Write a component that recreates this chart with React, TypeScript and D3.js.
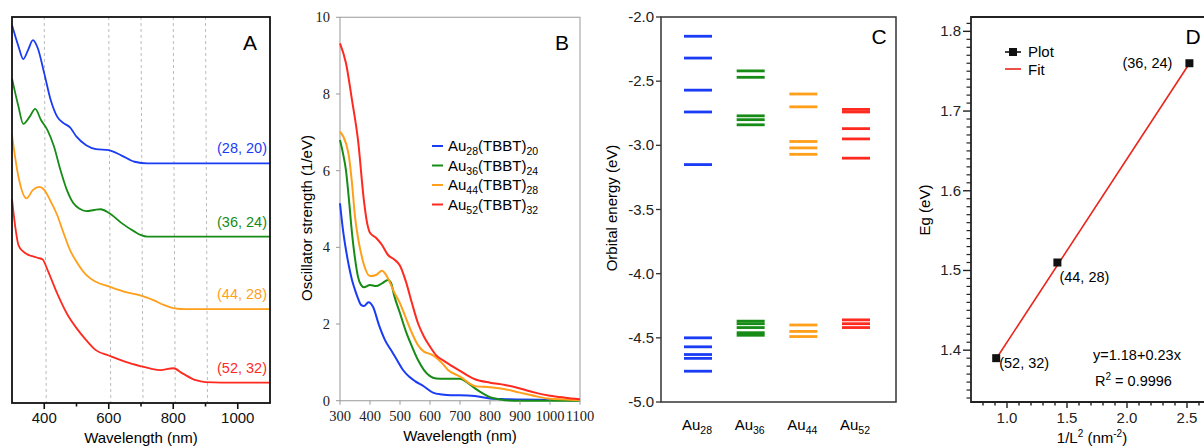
import React, { useEffect, useRef } from 'react'
import * as d3 from 'd3'

const W = 1204, H = 447
const SANS = '"Liberation Sans", Arial, Helvetica, sans-serif'
const SERIF = '"Liberation Serif", "Times New Roman", serif'
const colors = ['#1a3cf5', '#168c16', '#ff9f1a', '#ff2a1f']

// ---- panel A: stacked absorption spectra (offset, a.u.) ----
const absAu28: [number, number][] = [[300, 9.79], [320, 9.24], [335, 8.91], [350, 9.15], [365, 9.4], [380, 9.19], [400, 8.54], [420, 7.85], [440, 7.42], [460, 7.25], [480, 7.14], [500, 6.9], [530, 6.68], [560, 6.58], [600, 6.55], [640, 6.41], [680, 6.25], [720, 6.21], [800, 6.21], [1100, 6.21]]
const absAu36: [number, number][] = [[300, 8.41], [320, 7.68], [335, 7.23], [355, 7.42], [372, 7.62], [390, 7.33], [410, 7.07], [430, 6.65], [450, 6.04], [470, 5.52], [490, 5.18], [510, 5.03], [530, 4.97], [555, 5.0], [575, 5.02], [600, 4.93], [640, 4.66], [680, 4.44], [700, 4.35], [720, 4.31], [800, 4.31], [1100, 4.31]]
const absAu44: [number, number][] = [[300, 6.94], [320, 5.86], [345, 5.3], [365, 5.52], [385, 5.6], [400, 5.52], [420, 5.22], [440, 4.87], [460, 4.4], [480, 3.96], [500, 3.66], [530, 3.32], [560, 3.14], [600, 3.02], [650, 2.88], [700, 2.78], [740, 2.66], [770, 2.54], [800, 2.46], [840, 2.43], [1100, 2.43]]
const absAu52: [number, number][] = [[300, 5.28], [310, 4.57], [320, 4.09], [335, 3.92], [360, 3.81], [380, 3.76], [395, 3.72], [410, 3.45], [440, 2.84], [470, 2.32], [500, 1.94], [530, 1.63], [560, 1.37], [600, 1.23], [650, 1.07], [700, 0.95], [730, 0.89], [760, 0.85], [800, 0.9], [830, 0.76], [870, 0.59], [900, 0.54], [950, 0.53], [1100, 0.53]]
const absLabels = ['(28, 20)', '(36, 24)', '(44, 28)', '(52, 32)']
const absGrid = [400, 600, 700, 800, 900]
const absTicks = [400, 600, 800, 1000]
const absMinor = [500, 700, 900]

// ---- panel B: computed oscillator strength ----
const oscAu28: [number, number][] = [[300, 5.15], [310, 4.45], [320, 3.93], [330, 3.5], [340, 3.15], [350, 2.89], [360, 2.67], [370, 2.5], [380, 2.47], [395, 2.57], [410, 2.45], [430, 1.97], [450, 1.58], [470, 1.32], [490, 1.06], [510, 0.8], [530, 0.63], [550, 0.51], [580, 0.37], [610, 0.21], [640, 0.16], [670, 0.14], [700, 0.14], [750, 0.12], [800, 0.06], [850, 0.04], [900, 0.03], [1000, 0.02], [1100, 0.01]]
const oscAu36: [number, number][] = [[300, 6.8], [310, 6.45], [320, 6.0], [330, 5.23], [340, 4.37], [350, 3.71], [360, 3.23], [370, 3.02], [380, 2.96], [400, 3.02], [420, 2.99], [440, 3.06], [460, 3.15], [470, 3.08], [480, 2.76], [500, 2.28], [520, 1.8], [540, 1.41], [560, 1.06], [580, 0.8], [600, 0.64], [620, 0.58], [650, 0.57], [700, 0.57], [720, 0.5], [750, 0.32], [780, 0.17], [800, 0.09], [830, 0.04], [850, 0.01], [900, 0.0], [1100, 0.0]]
const oscAu44: [number, number][] = [[300, 7.02], [320, 6.71], [330, 6.36], [340, 5.67], [350, 4.8], [360, 4.25], [370, 3.85], [380, 3.54], [400, 3.25], [420, 3.28], [440, 3.39], [460, 3.19], [480, 2.84], [500, 2.54], [520, 2.15], [540, 1.76], [560, 1.45], [580, 1.28], [600, 1.22], [620, 1.13], [640, 0.98], [660, 0.8], [700, 0.63], [750, 0.38], [800, 0.35], [850, 0.3], [900, 0.21], [950, 0.12], [1000, 0.05], [1050, 0.03], [1100, 0.01]]
const oscAu52: [number, number][] = [[300, 9.32], [320, 8.8], [340, 7.84], [360, 6.8], [380, 5.2], [390, 4.65], [400, 4.38], [420, 4.25], [440, 4.06], [460, 3.8], [480, 3.69], [500, 3.52], [520, 3.1], [540, 2.54], [560, 2.02], [580, 1.67], [600, 1.41], [620, 1.19], [650, 1.02], [700, 0.78], [750, 0.56], [800, 0.47], [850, 0.41], [900, 0.32], [950, 0.21], [1000, 0.13], [1050, 0.08], [1100, 0.04]]
const oscLegend = [['28', '20'], ['36', '24'], ['44', '28'], ['52', '32']]
const oscXTicks = [300, 400, 500, 600, 700, 800, 900, 1000, 1100]
const oscYTicks = [0, 2, 4, 6, 8, 10]

// ---- panel C: orbital energy levels (eV) ----
const clusters = ['28', '36', '44', '52']
const levelsAu28 = [-2.15, -2.32, -2.57, -2.74, -3.15, -4.5, -4.57, -4.63, -4.66, -4.76]
const levelsAu36 = [-2.42, -2.47, -2.77, -2.8, -2.84, -4.37, -4.39, -4.42, -4.46, -4.48]
const levelsAu44 = [-2.6, -2.7, -2.97, -3.02, -3.07, -4.4, -4.45, -4.49]
const levelsAu52 = [-2.72, -2.74, -2.87, -2.95, -3.1, -4.36, -4.39, -4.42]
const energyTicks = [-5.0, -4.5, -4.0, -3.5, -3.0, -2.5, -2.0]

// ---- panel D: gap vs 1/L^2 ----
const gapX = [0.91, 1.42, 2.52]
const gapY = [1.39, 1.51, 1.76]
const gapLabels = ['(52, 32)', '(44, 28)', '(36, 24)']
const fitA = 1.18, fitB = 0.23
const gapXTicks = [1.0, 1.5, 2.0, 2.5]
const gapYTicks = [1.4, 1.5, 1.6, 1.7, 1.8]

type Sel = d3.Selection<SVGGElement, unknown, null, undefined>

// tick marks along a horizontal axis (dir 1 = down) or vertical axis (dir -1 = left)
function hTicks(g: Sel, xs: number[], y: number, len: number, color: string, w: number) {
  g.append('g').selectAll('line').data(xs).join('line')
    .attr('x1', d => d).attr('x2', d => d).attr('y1', y).attr('y2', y + len)
    .attr('stroke', color).attr('stroke-width', w)
}
function vTicks(g: Sel, ys: number[], x: number, len: number, color: string, w: number) {
  g.append('g').selectAll('line').data(ys).join('line')
    .attr('x1', x - len).attr('x2', x).attr('y1', d => d).attr('y2', d => d)
    .attr('stroke', color).attr('stroke-width', w)
}

export default function App() {
  const ref = useRef<SVGSVGElement>(null)

  useEffect(() => {
    const svg = d3.select(ref.current)
    svg.selectAll('*').remove()
    const g = svg.append('g').attr('font-family', SANS) as unknown as Sel

    // ================= A =================
    const xA = d3.scaleLinear().domain([300, 1100]).range([12, 270])
    const yA = d3.scaleLinear().domain([0, 10]).range([403, 17])
    g.append('g').selectAll('line').data(absGrid).join('line')
      .attr('x1', d => xA(d)).attr('x2', d => xA(d) + 2)
      .attr('y1', 17).attr('y2', 403)
      .attr('stroke', '#aaa').attr('stroke-width', 0.8).attr('stroke-dasharray', '3,3')
    const lineA = d3.line<[number, number]>().x(d => xA(d[0])).y(d => yA(d[1])).curve(d3.curveMonotoneX)
    ;[absAu28, absAu36, absAu44, absAu52].forEach((s, i) => {
      g.append('path').attr('d', lineA(s)).attr('fill', 'none')
        .attr('stroke', colors[i]).attr('stroke-width', 1.8)
      g.append('text').attr('x', 267).attr('y', yA(s[s.length - 1][1]) - 10)
        .attr('text-anchor', 'end').attr('font-size', 14.5).attr('fill', colors[i]).text(absLabels[i])
    })
    g.append('rect').attr('x', 12).attr('y', 17).attr('width', 258).attr('height', 386)
      .attr('fill', 'none').attr('stroke', '#111').attr('stroke-width', 1.8)
    hTicks(g, absTicks.map(xA), 403, 6, '#111', 1.6)
    hTicks(g, absMinor.map(xA), 403, 3.5, '#111', 1.6)
    g.append('g').selectAll('text').data(absTicks).join('text')
      .attr('x', d => xA(d)).attr('y', 423).attr('text-anchor', 'middle').attr('font-size', 15).attr('fill', '#111')
      .text(d => String(d))
    g.append('text').attr('x', 141).attr('y', 443).attr('text-anchor', 'middle').attr('font-size', 15).text('Wavelength (nm)')
    g.append('text').attr('x', 250).attr('y', 50).attr('text-anchor', 'middle').attr('font-size', 21).text('A')

    // ================= B =================
    const xB = d3.scaleLinear().domain([300, 1100]).range([340, 580])
    const yB = d3.scaleLinear().domain([0, 10]).range([400.7, 17.3])
    g.append('rect').attr('x', 340).attr('y', 17.3).attr('width', 240).attr('height', 383.4)
      .attr('fill', 'none').attr('stroke', '#aaa').attr('stroke-width', 1.2)
    const lineB = d3.line<[number, number]>().x(d => xB(d[0])).y(d => yB(d[1])).curve(d3.curveMonotoneX)
    ;[oscAu28, oscAu36, oscAu44, oscAu52].forEach((s, i) => {
      g.append('path').attr('d', lineB(s)).attr('fill', 'none')
        .attr('stroke', colors[i]).attr('stroke-width', 2)
    })
    hTicks(g, oscXTicks.map(xB), 400.7, 4, '#999', 1)
    vTicks(g, oscYTicks.map(yB), 340, 4, '#999', 1)
    g.append('g').selectAll('text').data(oscXTicks).join('text')
      .attr('x', d => xB(d)).attr('y', 421).attr('text-anchor', 'middle')
      .attr('font-family', SERIF).attr('font-size', 14.5).attr('fill', '#222').text(d => String(d))
    g.append('g').selectAll('text').data(oscYTicks).join('text')
      .attr('x', 330).attr('y', d => yB(d) + 5).attr('text-anchor', 'end')
      .attr('font-family', SERIF).attr('font-size', 14.5).attr('fill', '#222').text(d => String(d))
    g.append('text').attr('x', 460).attr('y', 441).attr('text-anchor', 'middle').attr('font-size', 15).text('Wavelength (nm)')
    g.append('text').attr('transform', 'translate(312,218) rotate(-90)').attr('text-anchor', 'middle')
      .attr('font-size', 15).text('Oscillator strength (1/eV)')
    g.append('text').attr('x', 562).attr('y', 50).attr('text-anchor', 'middle').attr('font-size', 21).text('B')
    const legB = g.append('g')
    oscLegend.forEach((p, i) => {
      const yy = 146 + i * 19.5
      legB.append('line').attr('x1', 432).attr('x2', 443).attr('y1', yy).attr('y2', yy)
        .attr('stroke', colors[i]).attr('stroke-width', 2)
      const t = legB.append('text').attr('x', 448).attr('y', yy + 5).attr('font-size', 15)
      t.append('tspan').text('Au')
      t.append('tspan').attr('font-size', 10.5).attr('dy', 4).text(p[0])
      t.append('tspan').attr('dy', -4).text('(TBBT)')
      t.append('tspan').attr('font-size', 10.5).attr('dy', 4).text(p[1])
    })

    // ================= C =================
    const xC = d3.scalePoint<string>().domain(clusters).range([698, 856])
    const yC = d3.scaleLinear().domain([-5, -2]).range([402, 17])
    ;[levelsAu28, levelsAu36, levelsAu44, levelsAu52].forEach((lv, i) => {
      const cx = xC(clusters[i]) as number
      g.append('g').selectAll('line').data(lv).join('line')
        .attr('x1', cx - 14).attr('x2', cx + 14)
        .attr('y1', d => yC(d)).attr('y2', d => yC(d))
        .attr('stroke', colors[i]).attr('stroke-width', 2.8)
    })
    g.append('rect').attr('x', 661).attr('y', 17).attr('width', 235).attr('height', 385)
      .attr('fill', 'none').attr('stroke', '#333').attr('stroke-width', 1.5)
    vTicks(g, energyTicks.map(yC), 661, 5, '#333', 1.3)
    g.append('g').selectAll('text').data(energyTicks).join('text')
      .attr('x', 654).attr('y', d => yC(d) + 5).attr('text-anchor', 'end').attr('font-size', 15).attr('fill', '#222')
      .text(d => d.toFixed(1))
    clusters.forEach(c => {
      const t = g.append('text').attr('x', (xC(c) as number) - 1).attr('y', 430).attr('text-anchor', 'middle').attr('font-size', 15)
      t.append('tspan').text('Au')
      t.append('tspan').attr('font-size', 10.5).attr('dy', 4).text(c)
    })
    g.append('text').attr('transform', 'translate(617,208) rotate(-90)').attr('text-anchor', 'middle')
      .attr('font-size', 15).text('Orbital energy (eV)')
    g.append('text').attr('x', 879).attr('y', 44).attr('text-anchor', 'middle').attr('font-size', 21).text('C')

    // ================= D =================
    const xD = d3.scaleLinear().domain([0.7, 2.7]).range([971, 1211])
    const yD = d3.scaleLinear().domain([1.335, 1.818]).range([402, 17])
    const xMinor = d3.range(8, 28).map(v => v / 10).filter(v => Math.round(v * 10) % 5 !== 0)
    const yMinor = d3.range(134, 182).map(v => v / 100).filter(v => Math.round(v * 100) % 10 !== 0)
    hTicks(g, gapXTicks.map(xD), 402, 6, '#222', 1.4)
    hTicks(g, xMinor.map(xD), 402, 3.5, '#222', 1.4)
    vTicks(g, gapYTicks.map(yD), 971, 8, '#222', 1.4)
    vTicks(g, yMinor.map(yD), 971, 4.5, '#222', 1.2)
    g.append('path').attr('d', `M${W},17H971V402H${W}`).attr('fill', 'none').attr('stroke', '#222').attr('stroke-width', 1.8)
    g.append('g').selectAll('text').data(gapXTicks).join('text')
      .attr('x', d => xD(d)).attr('y', 423).attr('text-anchor', 'middle').attr('font-size', 15).attr('fill', '#222')
      .text(d => d.toFixed(1))
    g.append('g').selectAll('text').data(gapYTicks).join('text')
      .attr('x', 961).attr('y', d => yD(d) + 5).attr('text-anchor', 'end').attr('font-size', 15).attr('fill', '#222')
      .text(d => d.toFixed(1))
    g.append('line').attr('x1', xD(gapX[0])).attr('x2', xD(gapX[2]))
      .attr('y1', yD(fitA + fitB * gapX[0])).attr('y2', yD(fitA + fitB * gapX[2]))
      .attr('stroke', '#e8261c').attr('stroke-width', 1.6)
    g.append('g').selectAll('rect').data(gapX).join('rect')
      .attr('x', d => xD(d) - 4).attr('y', (d, i) => yD(gapY[i]) - 4).attr('width', 8).attr('height', 8).attr('fill', '#111')
    const lblOff = [[3, 10, 'start'], [2, 19, 'start'], [-17, 5, 'end']]
    gapX.forEach((x, i) => {
      g.append('text').attr('x', xD(x) + (lblOff[i][0] as number)).attr('y', yD(gapY[i]) + (lblOff[i][1] as number))
        .attr('text-anchor', lblOff[i][2] as string).attr('font-size', 14.5).text(gapLabels[i])
    })
    g.append('text').attr('x', 1093).attr('y', 360).attr('font-size', 14.5).text(`y=${fitA}+${fitB}x`)
    const r2 = g.append('text').attr('x', 1095).attr('y', 386).attr('font-size', 14.5)
    r2.append('tspan').text('R')
    r2.append('tspan').attr('font-size', 10).attr('dy', -6).text('2')
    r2.append('tspan').attr('dy', 6).text(' = 0.9996')
    // legend
    g.append('line').attr('x1', 1005).attr('x2', 1021).attr('y1', 52).attr('y2', 52).attr('stroke', '#111').attr('stroke-width', 1.6)
    g.append('rect').attr('x', 1009).attr('y', 48).attr('width', 8).attr('height', 8).attr('fill', '#111')
    g.append('text').attr('x', 1028).attr('y', 57).attr('font-size', 15).text('Plot')
    g.append('line').attr('x1', 1005).attr('x2', 1021).attr('y1', 69).attr('y2', 69).attr('stroke', '#e8261c').attr('stroke-width', 1.6)
    g.append('text').attr('x', 1028).attr('y', 75).attr('font-size', 15).text('Fit')
    const xl = g.append('text').attr('x', 1092).attr('y', 443).attr('text-anchor', 'middle').attr('font-size', 15)
    xl.append('tspan').text('1/L')
    xl.append('tspan').attr('font-size', 10).attr('dy', -6).text('2')
    xl.append('tspan').attr('dy', 6).text(' (nm')
    xl.append('tspan').attr('font-size', 10).attr('dy', -6).text('-2')
    xl.append('tspan').attr('dy', 6).text(')')
    g.append('text').attr('transform', 'translate(930,210) rotate(-90)').attr('text-anchor', 'middle')
      .attr('font-size', 15).text('Eg (eV)')
    g.append('text').attr('x', 1193).attr('y', 44).attr('text-anchor', 'middle').attr('font-size', 21).text('D')
  }, [])

  return (
    <svg ref={ref} width={W} height={H} viewBox={`0 0 ${W} ${H}`}
      style={{ position: 'absolute', left: 0, top: 0, background: '#fff' }} />
  )
}
